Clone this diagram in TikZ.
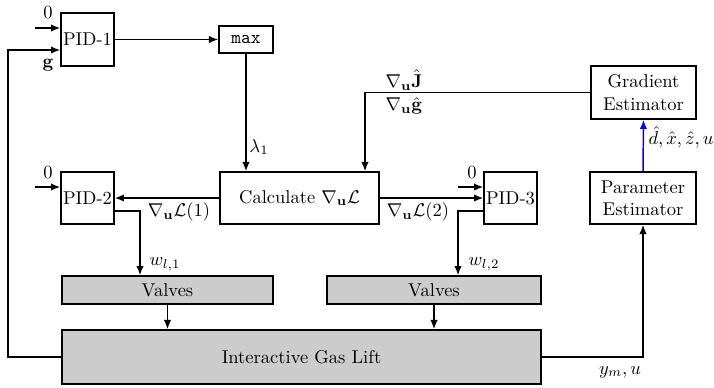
\documentclass[tikz,border=0pt]{standalone}
\usetikzlibrary{arrows.meta}
\begin{document}
\begin{tikzpicture}[x=0.54pt,y=-0.54pt,
  blk/.style={draw,thick,inner sep=0pt,align=center},
  gblk/.style={blk,fill=gray!40},
  conn/.style={thick},
  arr/.style={thick,-{Latex[length=5pt,width=4pt]}},
  lbl/.style={inner sep=0pt}]
\useasboundingbox (0,0) rectangle (714,387);
% blocks
\node[blk,minimum width=28.6pt,minimum height=28.6pt] (pid1) at (87.5,39.5) {PID-1};
\node[blk,minimum width=29.2pt,minimum height=14.6pt] (mx) at (246,39.5) {\texttt{max}};
\node[blk,minimum width=85.9pt,minimum height=28.1pt] (calc) at (299.5,198) {Calculate $\nabla_{\mathbf{u}}\mathcal{L}$};
\node[blk,minimum width=28.6pt,minimum height=28.1pt] (pid2) at (87.5,198) {PID-2};
\node[blk,minimum width=28.6pt,minimum height=28.1pt] (pid3) at (510.5,198) {PID-3};
\node[blk,minimum width=57.2pt,minimum height=28.1pt] (param) at (643,198) {Parameter\\Estimator};
\node[blk,minimum width=56.7pt,minimum height=28.6pt] (grad) at (643.5,92.5) {Gradient\\Estimator};
\node[gblk,minimum width=113.9pt,minimum height=15.1pt] (v1) at (167.5,290) {Valves};
\node[gblk,minimum width=115.6pt,minimum height=15.1pt] (v2) at (434,290) {Valves};
\node[gblk,minimum width=258.7pt,minimum height=29.2pt] (igl) at (301.5,357) {Interactive Gas Lift};
% coordinates
\coordinate (in1) at (35,28);
\coordinate (in2) at (35,187);
\coordinate (in3) at (458,187);
\coordinate (fbl) at (8,357);
\coordinate (fbt) at (8,50);
\coordinate (gc) at (365,92.5);
\coordinate (w1) at (140,211);
\coordinate (w2) at (458,211);
\coordinate (ym) at (643,357);
% connectors
\draw[arr] (in1) -- (pid1.west |- in1);
\draw[arr] (igl.west) -- (fbl) -- (fbt) -- (pid1.west |- fbt);
\draw[arr] (pid1.east) -- (mx.west);
\draw[arr] (mx.south) -- (mx.south |- calc.north);
\draw[arr] (grad.west) -- (gc) -- (gc |- calc.north);
\draw[arr] (in2) -- (pid2.west |- in2);
\draw[arr] (calc.west) -- (pid2.east);
\draw[arr] (calc.east) -- (pid3.west);
\draw[arr] (in3) -- (pid3.west |- in3);
\draw[arr] (pid2.east |- w1) -- (w1) -- (w1 |- v1.north);
\draw[arr] (pid3.west |- w2) -- (w2) -- (w2 |- v2.north);
\draw[arr] (v1.south) -- (v1.south |- igl.north);
\draw[arr] (v2.south) -- (v2.south |- igl.north);
\draw[arr] (igl.east) -- (ym) -- (param.south);
\draw[arr,blue] (param.north) -- (grad.south);
% labels
\node[lbl] (l0a) at (48,13) {0};
\node[lbl] (lg) at (48,65) {$\mathbf{g}$};
\node[lbl] (l0b) at (48,173) {0};
\node[lbl] (l0c) at (472,173) {0};
\node[lbl] (llam) at (259,147) {$\lambda_1$};
\node[lbl] (lJ) at (404,80) {$\nabla_{\mathbf{u}}\hat{\mathbf{J}}$};
\node[lbl] (lgh) at (404,106) {$\nabla_{\mathbf{u}}\hat{\mathbf{g}}$};
\node[lbl] (lL1) at (179,212) {$\nabla_{\mathbf{u}}\mathcal{L}(1)$};
\node[lbl] (lL2) at (418,212) {$\nabla_{\mathbf{u}}\mathcal{L}(2)$};
\node[lbl] (lw1) at (165,264) {$w_{l,1}$};
\node[lbl] (lw2) at (484,264) {$w_{l,2}$};
\node[lbl] (ld) at (681,137) {$\hat{d},\hat{x},\hat{z},u$};
\node[lbl] (lym) at (620,372) {$y_m,u$};
\end{tikzpicture}
\end{document}
